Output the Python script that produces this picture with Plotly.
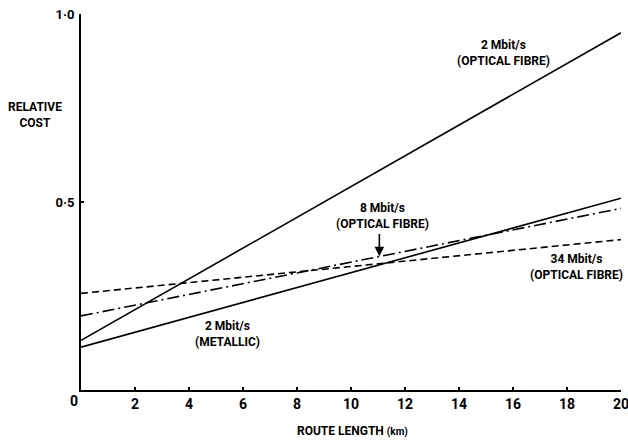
import plotly.graph_objects as go

# Data
route_km = [0, 20]
cost_2m_optical = [0.132, 0.95]
cost_2m_metallic = [0.114, 0.51]
cost_8m_optical = [0.197, 0.483]
cost_34m_optical = [0.257, 0.40]

x_tickvals = [2, 4, 6, 8, 10, 12, 14, 16, 18, 20]
x_ticktext = ["2", "4", "6", "8", "10", "12", "14", "16", "18", "20"]
y_tickvals = [0.5, 1.0]
y_ticktext = ["0·5", "1·0"]

FONT = "Roboto, Liberation Sans Narrow, DejaVu Sans Condensed, sans-serif"
BLACK = "#000000"

fig = go.Figure()
line_w = 1.6
fig.add_trace(go.Scatter(x=route_km, y=cost_2m_optical, mode="lines",
                         line=dict(color=BLACK, width=line_w), showlegend=False))
fig.add_trace(go.Scatter(x=route_km, y=cost_2m_metallic, mode="lines",
                         line=dict(color=BLACK, width=line_w), showlegend=False))
fig.add_trace(go.Scatter(x=route_km, y=cost_8m_optical, mode="lines",
                         line=dict(color=BLACK, width=line_w, dash="12px,4px,2px,4px"),
                         showlegend=False))
fig.add_trace(go.Scatter(x=route_km, y=cost_34m_optical, mode="lines",
                         line=dict(color=BLACK, width=line_w, dash="7px,4px"),
                         showlegend=False))

ann_font = dict(family=FONT, size=12, color=BLACK)
common = dict(xanchor="center", yanchor="middle", showarrow=False, align="center")
annotations = [
    dict(x=15.63, y=0.896, xref="x", yref="y", text="<b>2 Mbit/s<br>(OPTICAL FIBRE)</b>",
         font=ann_font, **common),
    dict(x=11.16, y=0.462, xref="x", yref="y", text="<b>8 Mbit/s<br>(OPTICAL FIBRE)</b>",
         font=ann_font, **common),
    dict(x=18.37, y=0.326, xref="x", yref="y", text="<b>34 Mbit/s<br>(OPTICAL FIBRE)</b>",
         font=ann_font, **common),
    dict(x=5.43, y=0.148, xref="x", yref="y", text="<b>2 Mbit/s<br>(METALLIC)</b>",
         font=ann_font, **common),
    dict(x=11.05, y=0.3555, xref="x", yref="y", ax=11.05, ay=0.419, axref="x", ayref="y",
         text="", showarrow=True, arrowhead=2, arrowsize=1.2, arrowwidth=1.6,
         arrowcolor=BLACK),
    dict(x=-0.085, y=0.731, xref="paper", yref="paper", text="<b>RELATIVE<br>COST</b>",
         font=dict(family=FONT, size=12, color=BLACK), **common),
    dict(x=0.502, y=-0.11, xref="paper", yref="paper",
         text="<b>ROUTE LENGTH <span style='font-size:10px'>(km)</span></b>",
         font=dict(family=FONT, size=12, color=BLACK), **common),
    dict(x=0, y=0, xref="x", yref="y", text="<b>0</b>",
         xshift=-7, yshift=-11, font=dict(family=FONT, size=14, color=BLACK), **common),
]

fig.update_layout(
    width=628, height=441,
    margin=dict(l=81, r=7, t=14, b=51, autoexpand=False),
    paper_bgcolor="white", plot_bgcolor="white",
    annotations=annotations,
    xaxis=dict(range=[0, 20], tickvals=x_tickvals, ticktext=x_ticktext,
               showline=True, linecolor=BLACK, linewidth=2, showgrid=False,
               zeroline=False, ticks="inside", ticklen=3, tickwidth=2, tickcolor=BLACK,
               tickfont=dict(family=FONT, size=14, color=BLACK, weight="bold"),
               ticklabelstandoff=0, ticklabeloverflow="allow", automargin=False,
               fixedrange=True),
    yaxis=dict(range=[0, 1.0], tickvals=y_tickvals, ticktext=y_ticktext,
               showline=True, linecolor=BLACK, linewidth=2, showgrid=False,
               zeroline=False, ticks="inside", ticklen=3, tickwidth=2, tickcolor=BLACK,
               tickfont=dict(family=FONT, size=13, color=BLACK, weight="bold"),
               ticklabelstandoff=2, ticklabeloverflow="allow", automargin=False,
               fixedrange=True),
)

fig.write_html("out.html", config={"displayModeBar": False},
               post_script="document.body.style.margin='0';document.body.style.padding='0';")
